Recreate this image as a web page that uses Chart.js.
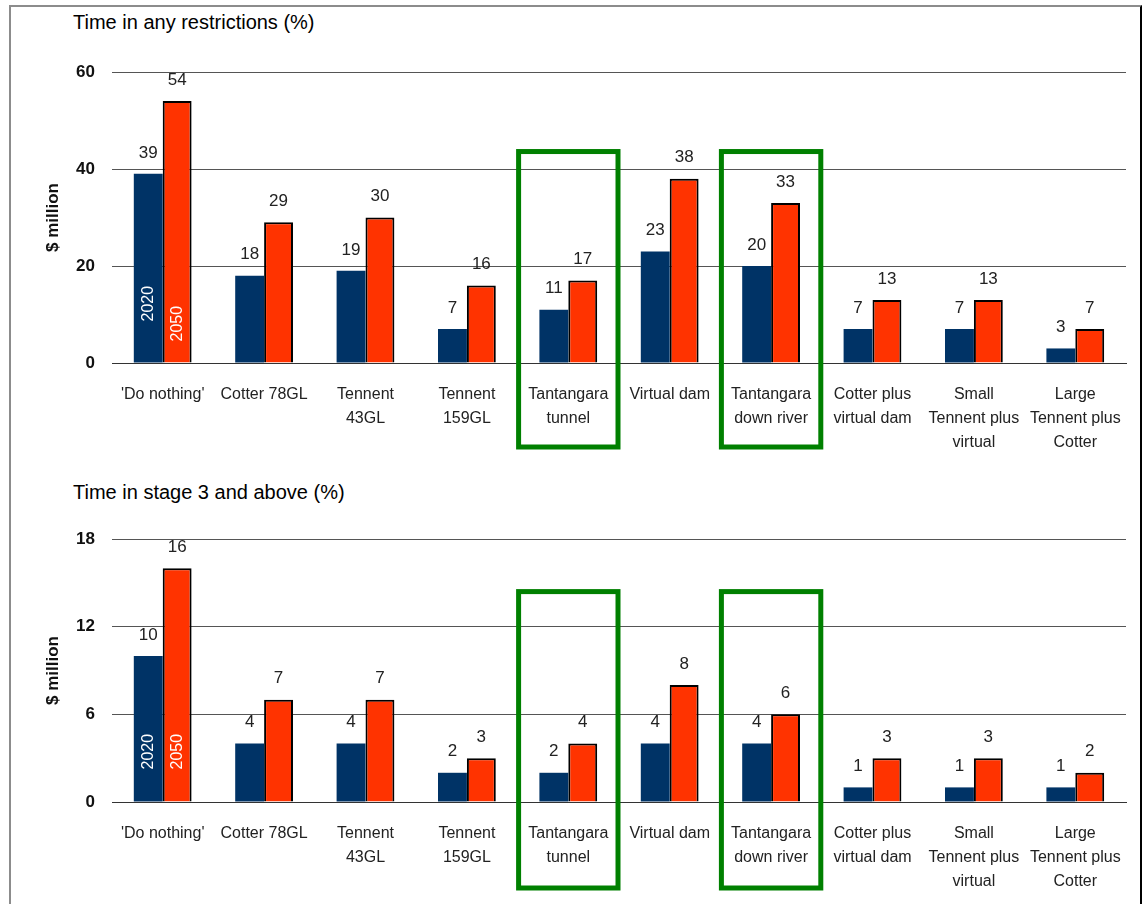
<!DOCTYPE html>
<html>
<head>
<meta charset="utf-8">
<script src="https://cdn.jsdelivr.net/npm/chart.js@4"></script>
<style>
  html, body { margin: 0; padding: 0; background: #fff; }
  #frame {
    position: absolute; left: 9px; top: 5px;
    width: 1129px; height: 899px; overflow: hidden;
    border-left: 2px solid #8c8c8c; border-top: 2px solid #8c8c8c; border-right: 2px solid #000;
  }
  .panel-title {
    position: absolute; left: 62px;
    font: 20px "Liberation Sans", Arial, sans-serif; line-height: 24px; color: #000;
  }
  canvas { position: absolute; left: 0; }
</style>
</head>
<body>
<div id="frame">
  <div class="panel-title" style="top: 3px;">Time in any restrictions (%)</div>
  <canvas id="chart-any" width="1129" height="465" style="top: 0;"></canvas>
  <div class="panel-title" style="top: 473px;">Time in stage 3 and above (%)</div>
  <canvas id="chart-stage3" width="1129" height="427" style="top: 470px;"></canvas>
</div>
<script>
const categories = [
  "'Do nothing'",
  'Cotter 78GL',
  ['Tennent', '43GL'],
  ['Tennent', '159GL'],
  ['Tantangara', 'tunnel'],
  'Virtual dam',
  ['Tantangara', 'down river'],
  ['Cotter plus', 'virtual dam'],
  ['Small', 'Tennent plus', 'virtual'],
  ['Large', 'Tennent plus', 'Cotter']
];
const years = ['2020', '2050'];

const anyRestrictions2020 = [39, 18, 19, 7, 11, 23, 20, 7, 7, 3];
const anyRestrictions2050 = [54, 29, 30, 16, 17, 38, 33, 13, 13, 7];
const stage3Above2020 = [10, 4, 4, 2, 2, 4, 4, 1, 1, 1];
const stage3Above2050 = [16, 7, 7, 3, 4, 8, 6, 3, 3, 2];

const anyRestrictionsTicks = [0, 20, 40, 60];
const stage3AboveTicks = [0, 6, 12, 18];

// the two Tantangara options get a green box
const highlighted = [4, 6];

const FONT = '"Liberation Sans", Arial, sans-serif';

const barNotes = {
    id: 'barNotes',
    afterDatasetsDraw(chart, args, opts) {
        const ctx = chart.ctx;
        ctx.save();
        ctx.font = `17px ${FONT}`;
        ctx.fillStyle = '#222';
        ctx.textAlign = 'center';
        ctx.textBaseline = 'middle';
        chart.data.datasets.forEach((ds, di) => {
            chart.getDatasetMeta(di).data.forEach((bar, i) => {
                ctx.fillText(String(ds.data[i]), bar.x, bar.y - 21);
            });
        });

        // year names run up the first pair of bars
        ctx.font = `16px ${FONT}`;
        ctx.fillStyle = '#fff';
        ctx.textAlign = 'left';
        chart.data.datasets.forEach((ds, di) => {
            const bar = chart.getDatasetMeta(di).data[0];
            ctx.save();
            ctx.translate(bar.x, bar.base - opts.yearLift[di]);
            ctx.rotate(-Math.PI / 2);
            ctx.fillText(ds.label, 0, 0);
            ctx.restore();
        });
        ctx.restore();
    },
    afterDraw(chart, args, opts) {
        const ctx = chart.ctx;
        const xs = chart.scales.x;
        const ys = chart.scales.y;
        const half = xs.width / chart.data.labels.length / 2 - 1;
        const top = ys.getPixelForValue(opts.boxTop);
        const bottom = chart.chartArea.bottom + opts.boxDrop;
        ctx.save();
        ctx.strokeStyle = '#008000';
        ctx.lineWidth = 5;
        highlighted.forEach(i => {
            const cx = xs.getPixelForValue(i);
            ctx.strokeRect(cx - half, top, half * 2, bottom - top);
        });
        ctx.restore();
    }
};

function makeChart(id, values2020, values2050, tickValues, notes, areaTop, axisHeight) {
    return new Chart(document.getElementById(id), {
        type: 'bar',
        data: {
            labels: categories,
            datasets: [{
                label: years[0],
                data: values2020,
                backgroundColor: '#003366',
                borderWidth: 0
            }, {
                label: years[1],
                data: values2050,
                backgroundColor: '#ff3300',
                borderColor: '#000',
                borderWidth: 2
            }]
        },
        options: {
            responsive: false,
            animation: false,
            categoryPercentage: 0.57,
            barPercentage: 1,
            layout: { padding: { top: areaTop, right: 14, left: 0, bottom: 0 } },
            plugins: {
                legend: { display: false },
                tooltip: { enabled: false },
                barNotes: notes
            },
            scales: {
                x: {
                    grid: { display: false },
                    border: { display: true, color: '#333', width: 1 },
                    ticks: {
                        autoSkip: false, maxRotation: 0, padding: 12,
                        color: '#222',
                        font: { family: FONT, size: 16, lineHeight: 1.5 }
                    },
                    afterFit: s => { s.height = axisHeight; }
                },
                y: {
                    min: tickValues[0],
                    max: tickValues[tickValues.length - 1],
                    grid: { color: '#555', lineWidth: 1, drawTicks: false, tickLength: 0 },
                    border: { display: false },
                    ticks: {
                        stepSize: tickValues[1] - tickValues[0],
                        padding: 17,
                        color: '#111',
                        font: { family: FONT, size: 17, weight: 'bold' }
                    },
                    title: {
                        display: true,
                        text: '$ million',
                        color: '#111',
                        padding: { top: 32, bottom: 0 },
                        font: { family: FONT, size: 17, weight: 'bold' }
                    },
                    afterFit: s => { s.width = 101; }
                }
            }
        },
        plugins: [barNotes]
    });
}

makeChart('chart-any', anyRestrictions2020, anyRestrictions2050, anyRestrictionsTicks,
    { yearLift: [41, 21], boxTop: 43.6, boxDrop: 84 }, 65, 109);
makeChart('chart-stage3', stage3Above2020, stage3Above2050, stage3AboveTicks,
    { yearLift: [32, 32], boxTop: 14.4, boxDrop: 86 }, 62, 102);
</script>
</body>
</html>
